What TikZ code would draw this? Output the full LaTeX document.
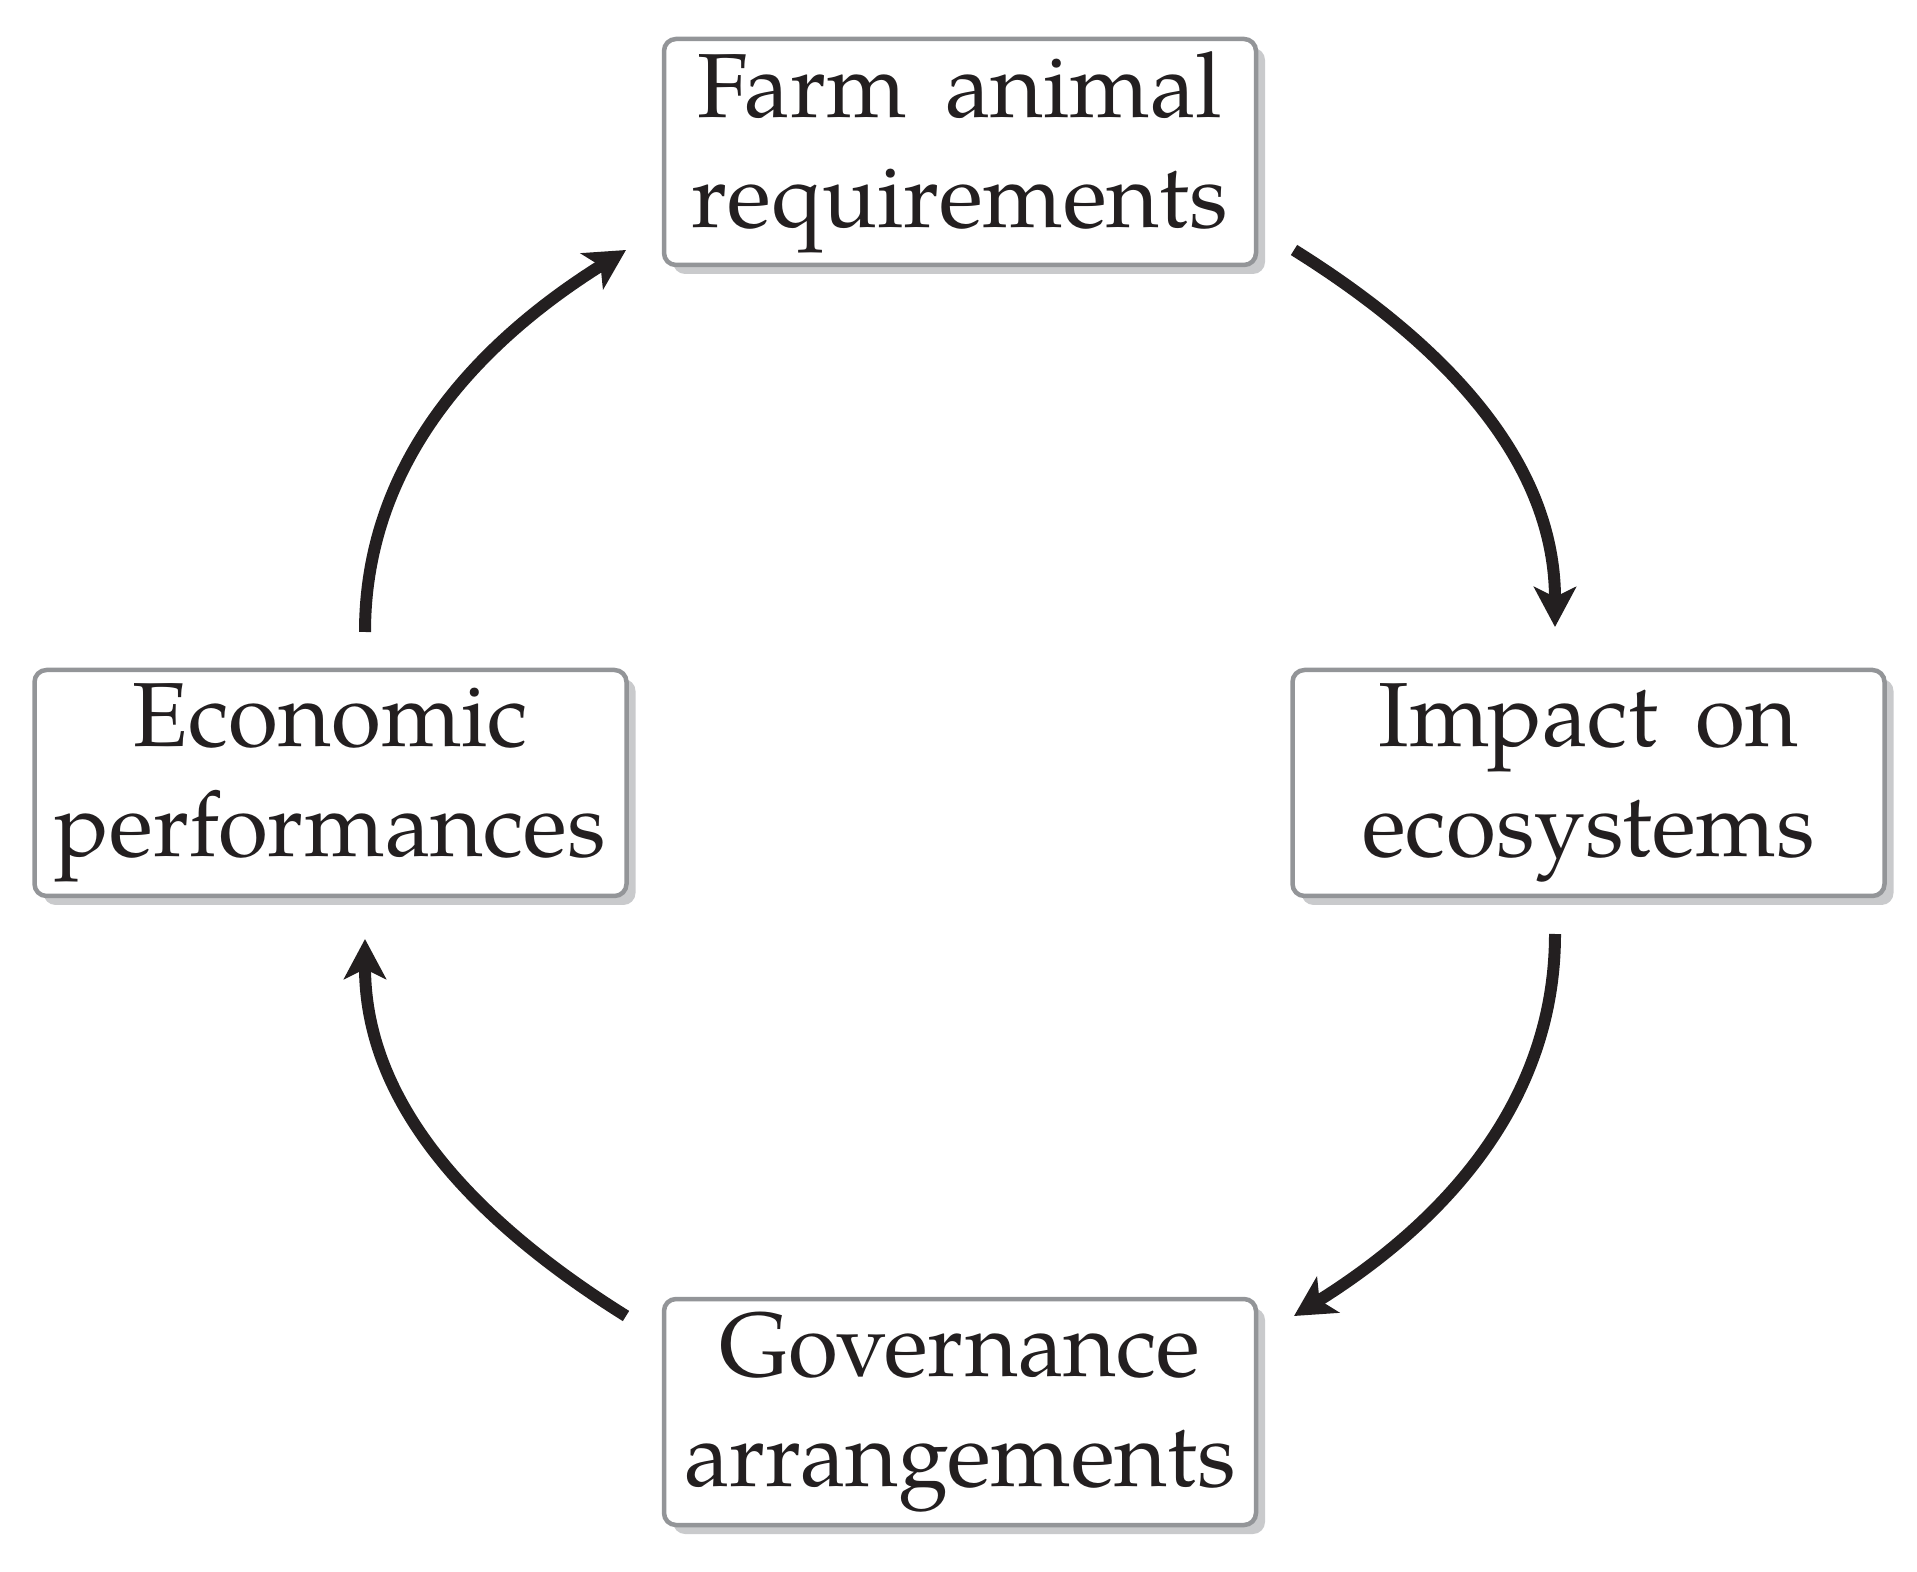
\documentclass[tikz,border=0pt]{standalone}
\usepackage{fontspec}
\setmainfont{TeX Gyre Pagella}
\usetikzlibrary{arrows.meta,shadows}
\definecolor{ink}{HTML}{231F20}
\definecolor{boxline}{HTML}{939598}
\definecolor{boxshadow}{HTML}{C9CACC}
\newcommand\wideword{\spaceskip=19pt\relax}
\begin{document}
\begin{tikzpicture}[x=0.5pt,y=0.5pt,
  stage/.style={draw=boxline, line width=2.25pt, rounded corners=6pt, fill=white,
    minimum width=296pt, minimum height=113pt, align=center, inner sep=0pt,
    text=ink, font=\fontsize{45.5}{55}\selectfont,
    execute at begin node=\wideword,
    drop shadow={shadow xshift=4.5pt, shadow yshift=-4.5pt, fill=boxshadow, opacity=1}},
  flow/.style={draw=ink, line width=6pt, looseness=0.95,
    -{Stealth[length=20pt,width=21pt,inset=5pt]}}]
\useasboundingbox (0,0) rectangle (1917,1571);
\node[stage] (farm) at (960,1419) {Farm animal\\requirements};
\node[stage] (impact) at (1588.5,788) {Impact on\\ecosystems};
\node[stage] (gov) at (960,159) {Governance\\arrangements};
\node[stage] (econ) at (330.5,788) {Economic\\performances};
\coordinate (a1s) at (1294,1321);
\coordinate (a1e) at (1555,944);
\coordinate (a2s) at (1555,637);
\coordinate (a2e) at (1294,255);
\coordinate (a3s) at (626,255);
\coordinate (a3e) at (365,632);
\coordinate (a4s) at (365,939);
\coordinate (a4e) at (626,1321);
\draw[flow] (a1s) to[out=-32,in=90] (a1e);
\draw[flow] (a2s) to[out=-90,in=32] (a2e);
\draw[flow] (a3s) to[out=148,in=-90] (a3e);
\draw[flow] (a4s) to[out=90,in=-148] (a4e);
\end{tikzpicture}
\end{document}
